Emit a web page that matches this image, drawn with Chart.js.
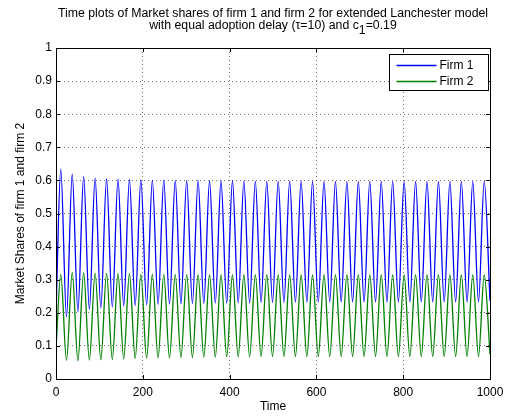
<!DOCTYPE html>
<html>
<head>
<meta charset="utf-8">
<script src="https://cdn.jsdelivr.net/npm/chart.js@4.4.0/dist/chart.umd.min.js"></script>
<style>
  html, body { margin: 0; padding: 0; background: #fff; }
  #wrap { width: 513px; height: 416px; }
</style>
</head>
<body>
<div id="wrap"><canvas id="chart" width="513" height="416"></canvas></div>
<script>
// Time of each turning point (start, then peak / trough alternately)
const times = [
    0, 11.0, 24.2, 37.4, 50.5, 63.7, 76.9, 90.1, 103.3, 116.5, 129.7, 142.9, 156.0,
    169.2, 182.4, 195.6, 208.8, 222.0, 235.2, 248.3, 261.5, 274.7, 287.9, 301.1,
    314.3, 327.4, 340.6, 353.8, 367.0, 380.2, 393.4, 406.6, 419.8, 432.9, 446.1,
    459.3, 472.5, 485.7, 498.9, 512.0, 525.2, 538.4, 551.6, 564.8, 578.0, 591.1,
    604.3, 617.5, 630.7, 643.9, 657.1, 670.3, 683.4, 696.6, 709.8, 723.0, 736.2,
    749.4, 762.6, 775.7, 788.9, 802.1, 815.3, 828.5, 841.7, 854.8, 868.0, 881.2,
    894.4, 907.6, 920.8, 934.0, 947.1, 960.3, 973.5, 986.7, 1000
];

// Firm 1 market share at those times
const firm1 = [
    0.200,
    0.634, 0.188, 0.619, 0.204, 0.611, 0.211, 0.607, 0.215, 0.605, 0.218,
    0.604, 0.221, 0.603, 0.222, 0.602, 0.224, 0.601, 0.225, 0.601, 0.226,
    0.600, 0.227, 0.600, 0.228, 0.600, 0.228, 0.599, 0.229, 0.599, 0.229,
    0.599, 0.230, 0.598, 0.230, 0.598, 0.231, 0.598, 0.231, 0.598, 0.231,
    0.598, 0.232, 0.598, 0.232, 0.597, 0.232, 0.597, 0.232, 0.597, 0.233,
    0.597, 0.233, 0.597, 0.233, 0.597, 0.233, 0.597, 0.233, 0.597, 0.233,
    0.597, 0.233, 0.597, 0.233, 0.597, 0.233, 0.597, 0.233, 0.597, 0.233,
    0.597, 0.233, 0.597, 0.233, 0.597, 0.236
];

// Firm 2 market share at those times
const firm2 = [
    0.090,
    0.316, 0.056, 0.322, 0.055, 0.321, 0.057, 0.320, 0.058, 0.319, 0.059,
    0.318, 0.061, 0.318, 0.062, 0.317, 0.063, 0.317, 0.064, 0.316, 0.064,
    0.316, 0.065, 0.316, 0.065, 0.315, 0.066, 0.315, 0.066, 0.315, 0.067,
    0.315, 0.067, 0.315, 0.067, 0.315, 0.068, 0.315, 0.068, 0.315, 0.068,
    0.315, 0.068, 0.315, 0.068, 0.315, 0.068, 0.315, 0.068, 0.315, 0.068,
    0.315, 0.068, 0.315, 0.068, 0.315, 0.068, 0.315, 0.068, 0.315, 0.068,
    0.315, 0.068, 0.315, 0.068, 0.315, 0.068, 0.315, 0.068, 0.315, 0.068,
    0.315, 0.068, 0.315, 0.068, 0.315, 0.075
];

const seriesNames = ['Firm 1', 'Firm 2'];
const seriesColors = ['#0000ff', '#008000'];

const titleLine1 = 'Time plots of Market shares of firm 1 and firm 2 for extended Lanchester model';
// second line is drawn in pieces so the "1" of c1 can sit as a subscript
const titleLine2 = ['with equal adoption delay (\u03c4=10) and c', '1', '=0.19'];

const FONT = '"Liberation Sans", Arial, Helvetica, sans-serif';

// MATLAB-ish frame: title, box, inward ticks on all four sides, legend box
const matlabFrame = {
    id: 'matlabFrame',
    afterDraw(chart) {
        const ctx = chart.ctx;
        const a = chart.chartArea;
        const xs = chart.scales.x, ys = chart.scales.y;

        ctx.save();
        // title
        ctx.fillStyle = '#000';
        ctx.font = '12.3px ' + FONT;
        ctx.textBaseline = 'middle';
        const cx = (a.left + a.right) / 2;
        ctx.textAlign = 'center';
        ctx.fillText(titleLine1, cx, 14);

        ctx.textAlign = 'left';
        const w0 = ctx.measureText(titleLine2[0]).width;
        const w1 = ctx.measureText(titleLine2[1]).width;
        const w2 = ctx.measureText(titleLine2[2]).width;
        let tx = cx - (w0 + w1 + w2) / 2;
        ctx.fillText(titleLine2[0], tx, 26);
        tx += w0;
        ctx.fillText(titleLine2[1], tx, 31);
        tx += w1;
        ctx.fillText(titleLine2[2], tx, 26);

        // box
        ctx.strokeStyle = '#000';
        ctx.lineWidth = 1;
        ctx.strokeRect(Math.round(a.left) + 0.5, Math.round(a.top) + 0.5,
            Math.round(a.right - a.left), Math.round(a.bottom - a.top));

        // inward ticks
        const tl = 4;
        ctx.beginPath();
        xs.ticks.forEach(t => {
            const px = Math.round(xs.getPixelForValue(t.value)) + 0.5;
            ctx.moveTo(px, a.bottom); ctx.lineTo(px, a.bottom - tl);
            ctx.moveTo(px, a.top); ctx.lineTo(px, a.top + tl);
        });
        ys.ticks.forEach(t => {
            const py = Math.round(ys.getPixelForValue(t.value)) + 0.5;
            ctx.moveTo(a.left, py); ctx.lineTo(a.left + tl, py);
            ctx.moveTo(a.right, py); ctx.lineTo(a.right - tl, py);
        });
        ctx.stroke();

        // legend
        const lx = 389.5, ly = 54.5, lw = 99, lh = 36;
        ctx.fillStyle = '#fff';
        ctx.fillRect(lx, ly, lw, lh);
        ctx.strokeStyle = '#000';
        ctx.lineWidth = 1;
        ctx.strokeRect(lx, ly, lw, lh);
        ctx.font = '12px ' + FONT;
        ctx.textAlign = 'left';
        ctx.textBaseline = 'middle';
        seriesNames.forEach((name, i) => {
            const y = Math.round(ly + 10 + i * 16.5) + 0.5;
            ctx.beginPath();
            ctx.strokeStyle = seriesColors[i];
            ctx.lineWidth = 1.3;
            ctx.moveTo(lx + 7, y);
            ctx.lineTo(lx + 47, y);
            ctx.stroke();
            ctx.fillStyle = '#000';
            ctx.fillText(name, lx + 50, y);
        });
        ctx.restore();
    }
};

const whiteBg = {
    id: 'whiteBg',
    beforeDraw(chart) {
        const ctx = chart.ctx;
        ctx.save();
        ctx.fillStyle = '#fff';
        ctx.fillRect(0, 0, chart.width, chart.height);
        ctx.restore();
    }
};

const points = arr => times.map((t, i) => ({ x: t, y: arr[i] }));

new Chart(document.getElementById('chart').getContext('2d'), {
    type: 'line',
    data: {
        datasets: [
            {
                label: seriesNames[0],
                data: points(firm1),
                borderColor: seriesColors[0],
                borderWidth: 1.3,
                pointRadius: 0,
                cubicInterpolationMode: 'monotone',
                fill: false
            },
            {
                label: seriesNames[1],
                data: points(firm2),
                borderColor: seriesColors[1],
                borderWidth: 1.3,
                pointRadius: 0,
                cubicInterpolationMode: 'monotone',
                fill: false
            }
        ]
    },
    options: {
        responsive: false,
        animation: false,
        devicePixelRatio: 1,
        layout: { padding: { top: 48, right: 23, left: 0, bottom: 0 } },
        plugins: {
            legend: { display: false },
            title: { display: false },
            tooltip: { enabled: false }
        },
        scales: {
            x: {
                type: 'linear',
                min: 0,
                max: 1000,
                ticks: {
                    stepSize: 200,
                    color: '#000',
                    font: { family: FONT, size: 12 },
                    padding: 6,
                    maxRotation: 0,
                    callback: v => String(v)
                },
                grid: { color: 'rgba(0,0,0,0.55)', drawTicks: false, lineWidth: 1 },
                border: { display: false, dash: [1, 3] },
                title: {
                    display: true,
                    text: 'Time',
                    color: '#000',
                    font: { family: FONT, size: 12 },
                    padding: { top: 0, bottom: 2 }
                },
                afterFit(scale) { scale.height = 37; }
            },
            y: {
                min: 0,
                max: 1,
                ticks: {
                    stepSize: 0.1,
                    color: '#000',
                    font: { family: FONT, size: 12 },
                    padding: 4,
                    callback: v => String(+v.toFixed(1))
                },
                grid: { color: 'rgba(0,0,0,0.55)', drawTicks: false, lineWidth: 1 },
                border: { display: false, dash: [1, 3] },
                title: {
                    display: true,
                    text: 'Market Shares of firm 1 and firm 2',
                    color: '#000',
                    font: { family: FONT, size: 12 },
                    padding: { top: 13, bottom: 0 }
                },
                afterFit(scale) { scale.width = 56; }
            }
        }
    },
    plugins: [whiteBg, matlabFrame]
});
</script>
</body>
</html>
